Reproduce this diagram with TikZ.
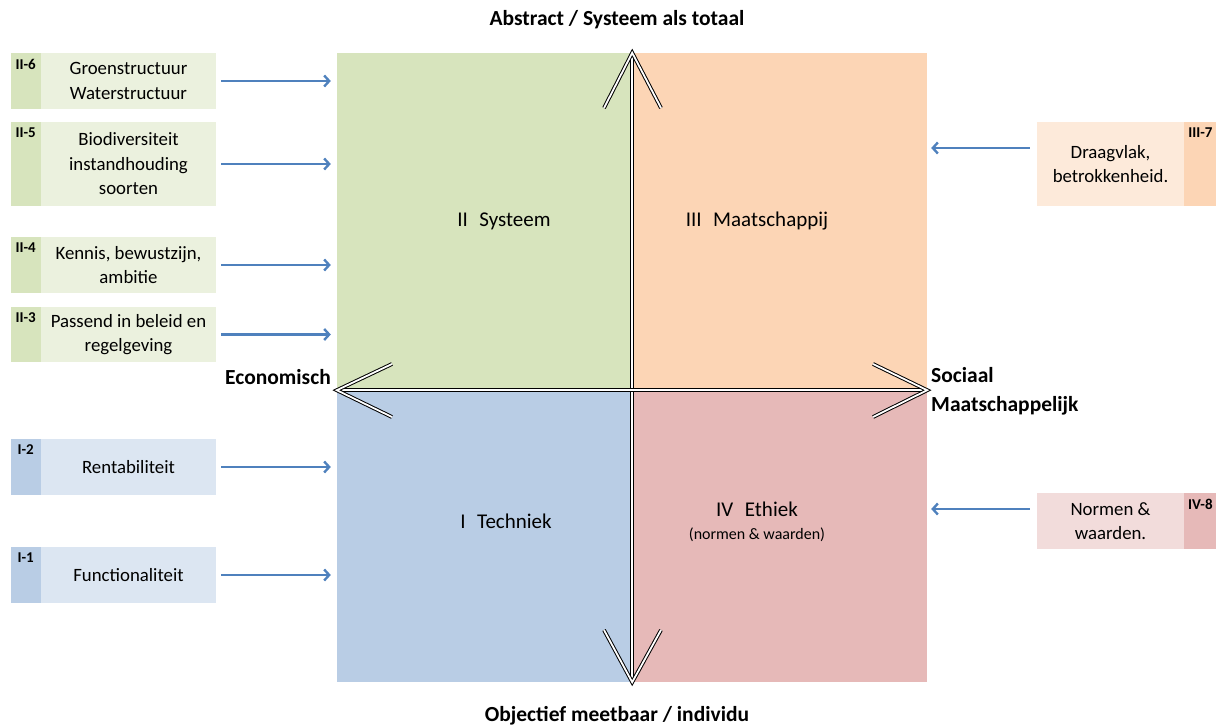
\documentclass[tikz,border=0pt]{standalone}
\usepackage{fontspec}
\setmainfont{Carlito}
\usetikzlibrary{arrows.meta}
\definecolor{grnQ}{HTML}{D7E4BD}
\definecolor{grnL}{HTML}{EBF1DE}
\definecolor{ornQ}{HTML}{FCD5B5}
\definecolor{ornL}{HTML}{FDEADA}
\definecolor{bluQ}{HTML}{B9CDE5}
\definecolor{bluL}{HTML}{DCE6F2}
\definecolor{redQ}{HTML}{E6B9B8}
\definecolor{redL}{HTML}{F2DCDB}
\definecolor{feedblue}{HTML}{4F81BD}
\begin{document}
\begin{tikzpicture}[x=1pt,y=-1pt]
	\tikzstyle{quad}=[inner sep=0pt,minimum width=295pt,minimum height=337pt]
	\tikzstyle{lbl}=[font=\fontsize{18.8}{24.5}\selectfont,align=center,inner sep=0pt]
	\tikzstyle{qlbl}=[font=\fontsize{21}{26}\selectfont,inner sep=0pt]
	\tikzstyle{axis}=[font=\fontsize{21.5}{29}\selectfont\bfseries,inner sep=0pt]
	\tikzstyle{info}=[lbl,minimum width=175pt]
	\tikzstyle{rinfo}=[lbl,minimum width=147pt]
	\tikzstyle{tag}=[inner sep=0pt,minimum width=30pt]
	\tikzstyle{tagtext}=[font=\fontsize{15}{17}\selectfont\bfseries,inner sep=0pt,anchor=north,yshift=-6pt]
	\tikzstyle{feed}=[draw=feedblue,line width=2.4pt,-{Straight Barb[length=5pt,width=11pt]}]
	\tikzstyle{dbl}=[draw=black,double=white,line width=1pt,double distance=1.8pt]
	\useasboundingbox (0,0) rectangle (1223,727);
	% quadrants
	\node[quad,fill=grnQ] (sys) at (484.5,221.5) {};
	\node[quad,fill=ornQ] (maa) at (779.5,221.5) {};
	\node[quad,minimum height=292pt,fill=bluQ] (tec) at (484.5,536) {};
	\node[quad,minimum height=292pt,fill=redQ] (eth) at (779.5,536) {};
	\node[qlbl] (l_sys) at (504,221) {II\hspace{0.55em}Systeem};
	\node[qlbl] (l_maa) at (757,221) {III\hspace{0.55em}Maatschappij};
	\node[qlbl] (l_tec) at (506,521) {I\hspace{0.55em}Techniek};
	\node[qlbl] (l_eth) at (757,509) {IV\hspace{0.55em}Ethiek};
	\node[lbl,font=\fontsize{16}{18}\selectfont] (l_nw) at (757,535) {(normen \& waarden)};
	% axes
	\draw[dbl] (sys.north east) -- (tec.south east);
	\draw[dbl] (sys.south west) -- (maa.south east);
	\draw[dbl,miter limit=20] (604,108) -- (sys.north east) -- (661,108);
	\draw[dbl,miter limit=20] (604,630) -- (tec.south east) -- (661,630);
	\draw[dbl,miter limit=20] (392,364) -- (sys.south west) -- (392,417);
	\draw[dbl,miter limit=20] (873,364) -- (maa.south east) -- (873,417);
	\node[axis] (top) at (617,20) {Abstract / Systeem als totaal};
	\node[axis] (bottom) at (617,716) {Objectief meetbaar / individu};
	\node[axis,anchor=east] (econ) at (331,377) {Economisch};
	\node[axis,anchor=west,align=left] (soc) at (931,391) {Sociaal\\Maatschappelijk};
	% left boxes
	\node[info,minimum height=56pt,fill=grnL] (b_6) at (128.5,81) {Groenstructuur\\Waterstructuur};
	\node[info,minimum height=84pt,fill=grnL] (b_5) at (128.5,164) {Biodiversiteit\\instandhouding\\soorten};
	\node[info,minimum height=56pt,fill=grnL] (b_4) at (128.5,265) {Kennis, bewustzijn,\\ambitie};
	\node[info,minimum height=55pt,fill=grnL] (b_3) at (128.5,334.5) {Passend in beleid en\\regelgeving};
	\node[info,minimum height=56pt,fill=bluL] (b_2) at (128.5,467) {Rentabiliteit};
	\node[info,minimum height=56pt,fill=bluL] (b_1) at (128.5,575) {Functionaliteit};
	\node[tag,anchor=north east,minimum height=56pt,fill=grnQ,label={[tagtext]north:II-6}] (t_6) at (b_6.north west) {};
	\node[tag,anchor=north east,minimum height=84pt,fill=grnQ,label={[tagtext]north:II-5}] (t_5) at (b_5.north west) {};
	\node[tag,anchor=north east,minimum height=56pt,fill=grnQ,label={[tagtext]north:II-4}] (t_4) at (b_4.north west) {};
	\node[tag,anchor=north east,minimum height=55pt,fill=grnQ,label={[tagtext]north:II-3}] (t_3) at (b_3.north west) {};
	\node[tag,anchor=north east,minimum height=56pt,fill=bluQ,label={[tagtext]north:I-2}] (t_2) at (b_2.north west) {};
	\node[tag,anchor=north east,minimum height=56pt,fill=bluQ,label={[tagtext]north:I-1}] (t_1) at (b_1.north west) {};
	% right boxes
	\node[rinfo,minimum height=84pt,fill=ornL] (r_7) at (1110.5,164) {Draagvlak,\\betrokkenheid.};
	\node[rinfo,minimum height=56pt,fill=redL] (r_8) at (1110.5,521) {Normen \&\\waarden.};
	\node[tag,anchor=north west,minimum width=32pt,minimum height=84pt,fill=ornQ,label={[tagtext]north:III-7}] (t_7) at (r_7.north east) {};
	\node[tag,anchor=north west,minimum width=32pt,minimum height=56pt,fill=redQ,label={[tagtext]north:IV-8}] (t_8) at (r_8.north east) {};
	% feeds
	\draw[feed,shorten <=5pt,shorten >=6pt] (b_6.east) -- (b_6.east -| sys.west);
	\draw[feed,shorten <=5pt,shorten >=6pt] (b_5.east) -- (b_5.east -| sys.west);
	\draw[feed,shorten <=5pt,shorten >=6pt] (b_4.east) -- (b_4.east -| sys.west);
	\draw[feed,shorten <=5pt,shorten >=6pt] (b_3.east) -- (b_3.east -| sys.west);
	\draw[feed,shorten <=5pt,shorten >=6pt] (b_2.east) -- (b_2.east -| tec.west);
	\draw[feed,shorten <=5pt,shorten >=6pt] (b_1.east) -- (b_1.east -| tec.west);
	\draw[feed,shorten <=7pt,shorten >=4pt] ([yshift=16pt]r_7.west) -- ([yshift=16pt]r_7.west -| maa.east);
	\draw[feed,shorten <=7pt,shorten >=4pt] ([yshift=12pt]r_8.west) -- ([yshift=12pt]r_8.west -| eth.east);
\end{tikzpicture}
\end{document}
